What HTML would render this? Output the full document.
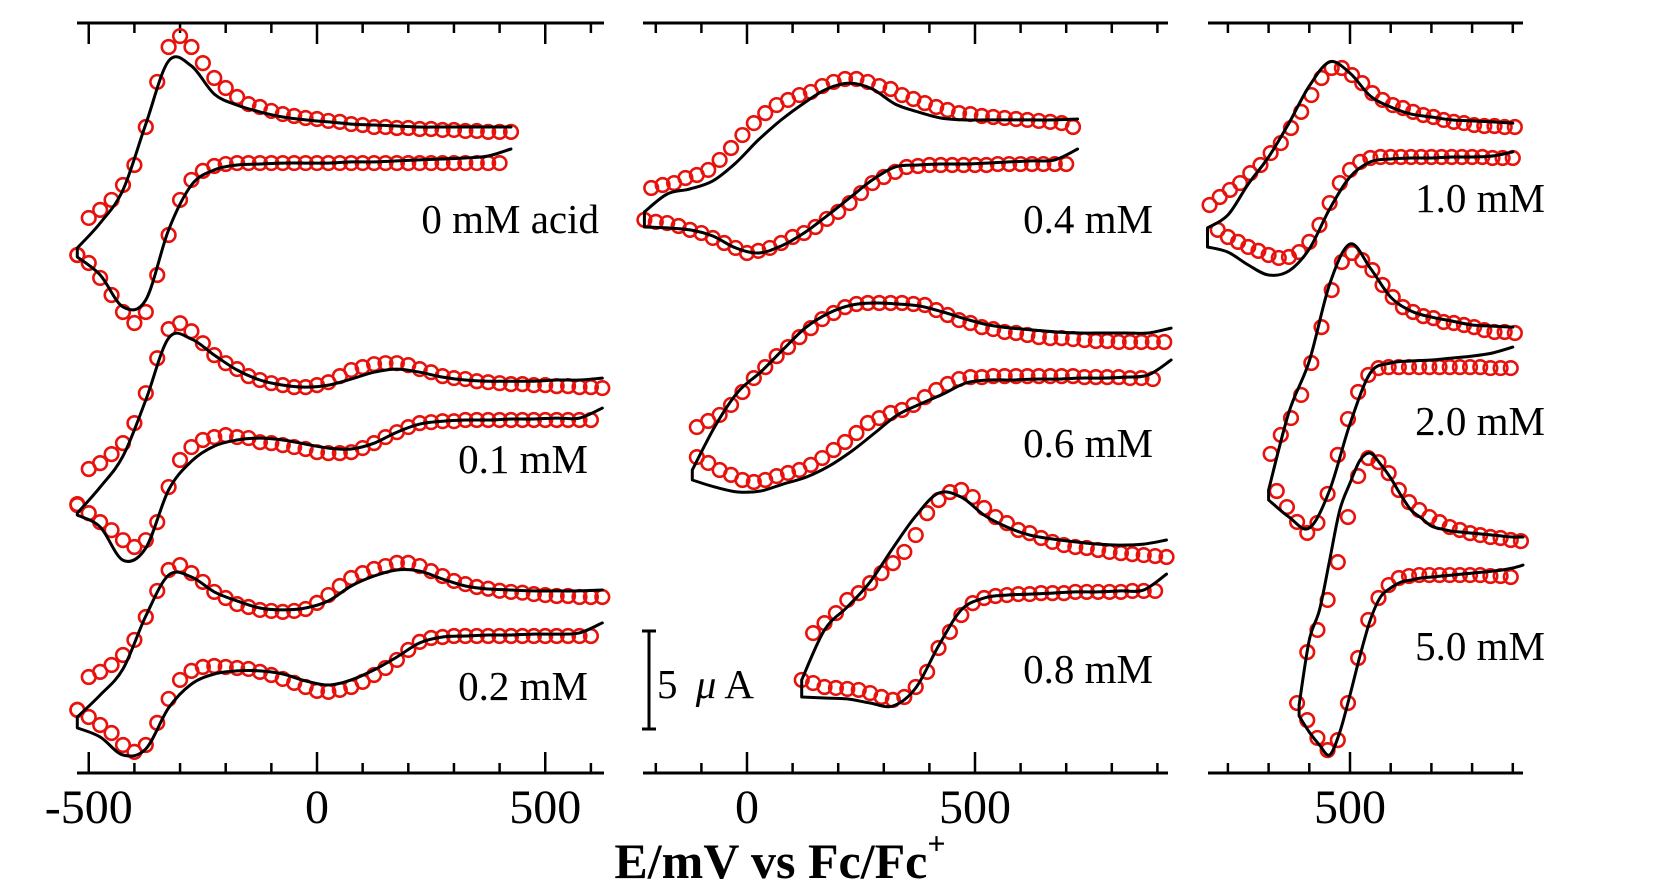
<!DOCTYPE html>
<html><head><meta charset="utf-8"><title>Cyclic voltammograms vs acid concentration</title>
<style>
html,body{margin:0;padding:0;background:#fff;}
svg{display:block;font-family:"Liberation Serif","Times New Roman",serif;}
</style></head>
<body>
<svg id="chart" width="1661" height="891" viewBox="0 0 1661 891" xmlns="http://www.w3.org/2000/svg">
<rect x="0" y="0" width="1661" height="891" fill="#fff"/>
<g id="axes"></g>
<g id="traces"></g>
<g id="labels">
  <text x="599" y="233" font-size="41" text-anchor="end">0 mM acid</text>
  <text x="588" y="473" font-size="41" text-anchor="end">0.1 mM</text>
  <text x="588" y="700" font-size="41" text-anchor="end">0.2 mM</text>
  <text x="1153" y="233" font-size="41" text-anchor="end">0.4 mM</text>
  <text x="1153" y="457" font-size="41" text-anchor="end">0.6 mM</text>
  <text x="1153" y="683" font-size="41" text-anchor="end">0.8 mM</text>
  <text x="1545" y="212" font-size="41" text-anchor="end">1.0 mM</text>
  <text x="1545" y="435" font-size="41" text-anchor="end">2.0 mM</text>
  <text x="1545" y="660" font-size="41" text-anchor="end">5.0 mM</text>
  <g>
    <line x1="649" y1="631" x2="649" y2="729" stroke="#000" stroke-width="3"/>
    <line x1="642" y1="631" x2="656" y2="631" stroke="#000" stroke-width="3"/>
    <line x1="642" y1="729" x2="656" y2="729" stroke="#000" stroke-width="3"/>
    <text x="657" y="698" font-size="41">5 <tspan font-style="italic" dx="8">μ</tspan><tspan dx="8">A</tspan></text>
  </g>
  <text x="780" y="878" font-size="50" font-weight="bold" text-anchor="middle">E/mV vs Fc/Fc<tspan dy="-24" font-size="32">+</tspan></text>
</g>
</svg>
<script>
// ---------- data (potential in mV, current in µA) ----------
const traceNames = ["0 mM acid","0.1 mM","0.2 mM","0.4 mM","0.6 mM","0.8 mM","1.0 mM","2.0 mM","5.0 mM"];
const tracePanel = [0,0,0,1,1,1,2,2,2];
const traceOffset = [26.38,13.21,2.35,27.91,15.0,3.93,26.89,13.98,3.01];
const simStart = [-525,-525,-525,-225,-120,120,150,300,375];
const simStep = [50,50,50,50,50,50,50,50,25];
const expUpStart = [-525,-525,-525,-210,-110,145,155,305,370];
const expLoStart = [-525,-525,-525,-225,-110,120,175,320,395];
const expStep = 25;

const sim0Up=[0.46,1.73,3.42,6.78,10.0,9.74,8.31,7.75,7.4,7.14,6.99,6.89,6.78,6.73,6.68,6.63,6.63,6.63,6.63,6.63];
const sim0Lo=[0,-0.92,-2.55,-2.19,1.38,3.67,4.44,4.69,4.74,4.79,4.79,4.79,4.85,4.85,4.9,4.95,5.0,5.05,5.15,5.51];
const exp0Up=[0.1,1.99,2.4,2.91,3.67,4.69,6.63,8.93,10.71,11.27,10.71,9.89,9.13,8.62,8.16,7.8,7.65,7.45,7.29,7.19,7.09,7.04,6.94,6.89,6.78,6.73,6.63,6.63,6.58,6.58,6.53,6.53,6.48,6.48,6.43,6.43,6.38,6.38,6.38];
const exp0Lo=[0.1,-0.31,-1.07,-1.94,-2.81,-3.37,-2.81,-0.92,1.12,2.91,3.93,4.39,4.64,4.74,4.79,4.79,4.79,4.79,4.79,4.79,4.79,4.79,4.79,4.79,4.79,4.79,4.79,4.79,4.79,4.79,4.79,4.79,4.79,4.79,4.79,4.79,4.79,4.79];

const sim1Up=[0.1,1.43,3.01,5.87,9.03,8.98,8.16,7.4,6.89,6.63,6.53,6.63,6.94,7.29,7.45,7.29,7.04,6.89,6.83,6.83,6.83,6.89,6.89,6.99];
const sim1Lo=[0,-0.61,-2.3,-1.68,1.28,2.75,3.52,3.83,3.93,3.83,3.62,3.42,3.37,3.67,4.23,4.64,4.79,4.85,4.85,4.9,4.9,4.95,4.95,5.46];
const exp1Up=[0.51,2.35,2.65,3.11,3.67,4.69,6.22,8.0,9.49,9.79,9.38,8.77,8.16,7.75,7.45,7.09,6.89,6.73,6.63,6.53,6.53,6.63,6.78,7.09,7.4,7.55,7.7,7.75,7.75,7.65,7.45,7.29,7.09,6.99,6.94,6.83,6.78,6.73,6.68,6.68,6.63,6.63,6.58,6.58,6.53,6.53,6.48];
const exp1Lo=[0.56,0.1,-0.36,-0.77,-1.28,-1.63,-1.28,-0.36,1.43,2.81,3.47,3.83,3.98,4.08,3.98,3.93,3.72,3.67,3.57,3.47,3.37,3.21,3.16,3.16,3.21,3.42,3.67,3.98,4.23,4.49,4.69,4.74,4.79,4.79,4.85,4.85,4.85,4.85,4.85,4.85,4.85,4.85,4.85,4.85,4.85,4.85];

const sim2Up=[0.56,1.68,3.01,5.71,7.8,7.7,6.94,6.48,6.12,6.02,6.12,6.48,7.24,7.75,8.06,8.0,7.6,7.24,7.09,7.04,6.99,6.99,6.99,7.04];
const sim2Lo=[0,-0.46,-1.38,-1.07,1.02,2.24,2.75,2.91,2.91,2.75,2.4,2.19,2.45,2.96,3.62,4.34,4.64,4.69,4.74,4.74,4.79,4.79,4.85,5.36];
const exp2Up=[0.92,2.6,2.86,3.21,3.72,4.49,5.66,6.99,8.06,8.31,7.9,7.45,6.94,6.63,6.32,6.17,6.02,5.97,5.92,5.97,6.07,6.38,6.78,7.24,7.65,7.9,8.11,8.26,8.42,8.42,8.26,8.0,7.75,7.5,7.34,7.19,7.1,7.0,6.94,6.9,6.83,6.78,6.73,6.73,6.68,6.68,6.68];
const exp2Lo=[0.92,0.56,0.15,-0.26,-0.87,-1.22,-0.87,0.26,1.48,2.45,2.91,3.11,3.16,3.11,3.06,3.01,2.86,2.7,2.5,2.3,2.09,1.89,1.84,1.94,2.09,2.35,2.7,3.06,3.47,3.98,4.39,4.59,4.64,4.69,4.69,4.69,4.69,4.69,4.69,4.69,4.69,4.69,4.69,4.69,4.69,4.69];

const sim3Up=[0.77,1.68,1.94,2.35,3.26,4.44,5.46,6.32,7.04,7.34,7.04,6.27,5.87,5.56,5.46,5.46,5.46,5.46,5.46,5.51];
const sim3Lo=[0,-0.05,-0.15,-0.46,-1.07,-1.33,-0.97,-0.31,0.56,1.48,2.4,3.06,3.16,3.21,3.21,3.26,3.32,3.37,3.42,3.98];
const exp3Up=[1.99,2.14,2.24,2.5,2.65,2.91,3.42,4.03,4.69,5.3,5.81,6.22,6.48,6.73,6.89,7.19,7.4,7.55,7.55,7.4,7.19,7.04,6.73,6.53,6.32,6.12,5.97,5.81,5.76,5.66,5.61,5.56,5.51,5.46,5.41,5.36,5.3,5.1];
const exp3Lo=[0.36,0.26,0.2,0.05,-0.15,-0.31,-0.56,-0.82,-1.07,-1.33,-1.22,-1.07,-0.82,-0.51,-0.31,0,0.41,0.77,1.22,1.73,2.24,2.55,2.81,3.06,3.11,3.16,3.16,3.16,3.16,3.16,3.16,3.21,3.21,3.21,3.21,3.21,3.21,3.21];

const sim4Up=[0.51,2.75,4.49,5.51,6.68,7.8,8.52,8.93,9.03,8.98,8.87,8.57,8.21,7.91,7.75,7.65,7.55,7.5,7.5,7.5,7.5,7.75];
const sim4Lo=[0,-0.36,-0.61,-0.56,-0.2,0.15,0.71,1.48,2.4,3.32,3.88,4.39,4.95,5.1,5.1,5.15,5.15,5.2,5.2,5.25,5.36,6.12];
const exp4Up=[2.7,3.01,3.32,3.83,4.49,5.2,5.76,6.32,6.78,7.29,7.75,8.21,8.52,8.82,8.98,9.03,9.03,9.03,9.03,8.98,8.93,8.67,8.42,8.16,8.01,7.8,7.7,7.55,7.5,7.4,7.29,7.24,7.24,7.19,7.14,7.09,7.09,7.04,7.04,7.04,7.04,7.04];
const exp4Lo=[1.17,0.87,0.51,0.26,0,-0.1,0,0.2,0.36,0.51,0.77,1.12,1.53,1.94,2.4,2.91,3.16,3.42,3.57,3.83,4.23,4.59,4.9,5.15,5.25,5.25,5.3,5.3,5.3,5.3,5.3,5.3,5.3,5.3,5.25,5.25,5.25,5.25,5.2,5.2,5.15];

const sim5Up=[0.87,3.42,4.59,5.87,7.6,9.23,10.4,10.2,9.28,8.67,8.26,8.06,7.91,7.8,7.75,7.8,8.01];
const sim5Lo=[0,-0.05,-0.1,-0.31,-0.46,0.46,2.6,4.44,5.05,5.2,5.25,5.3,5.36,5.36,5.41,5.46,6.27];
const exp5Up=[3.26,3.77,4.28,4.95,5.3,5.81,6.32,6.83,7.4,8.26,9.38,10.05,10.45,10.56,10.2,9.64,9.18,8.87,8.52,8.36,8.11,7.91,7.75,7.65,7.6,7.5,7.4,7.34,7.29,7.24,7.19,7.14];
const exp5Lo=[0.87,0.71,0.51,0.46,0.41,0.36,0.2,0,-0.15,0,0.51,1.28,2.5,3.32,4.18,4.79,5.05,5.15,5.2,5.25,5.25,5.3,5.3,5.3,5.36,5.36,5.36,5.36,5.36,5.41,5.41,5.41];

const sim6Up=[0.97,1.63,3.21,4.59,6.32,8.21,9.44,8.87,7.7,7.14,6.78,6.63,6.48,6.43,6.38,6.32];
const sim6Lo=[0,-0.26,-0.92,-1.43,-1.22,-0.1,1.94,3.57,4.34,4.49,4.54,4.54,4.59,4.59,4.64,4.85];
const exp6Up=[2.14,2.55,2.91,3.26,3.77,4.18,4.79,5.3,6.07,6.89,7.75,8.62,9.13,9.13,8.77,8.36,7.85,7.5,7.24,7.09,6.89,6.73,6.63,6.48,6.38,6.32,6.22,6.17,6.17,6.12,6.12];
const exp6Lo=[0.87,0.51,0.26,0,-0.2,-0.41,-0.56,-0.51,-0.26,0.26,1.12,2.24,3.26,3.93,4.34,4.54,4.59,4.59,4.59,4.59,4.59,4.59,4.59,4.59,4.59,4.59,4.59,4.54,4.54,4.54];

const sim7Up=[0.51,4.49,7.09,11.02,13.06,11.83,10.35,9.64,9.33,9.13,8.93,8.87,8.82];
const sim7Lo=[0,-0.87,-1.43,0.51,3.88,6.48,6.99,7.09,7.14,7.24,7.34,7.5,7.8];
const exp7Up=[2.35,3.32,4.18,5.36,6.99,8.82,10.71,12.14,12.6,12.24,11.73,10.97,10.35,9.84,9.59,9.38,9.28,9.08,9.03,8.93,8.82,8.67,8.57,8.57,8.52];
const exp7Lo=[0.46,-0.36,-1.12,-1.68,-1.17,0.31,2.3,4.13,5.51,6.38,6.73,6.78,6.78,6.78,6.78,6.78,6.78,6.78,6.78,6.78,6.78,6.73,6.73,6.73];

const sim8Up=[0.51,3.83,5.36,7.91,10.46,11.83,13.01,13.36,12.8,12.09,11.22,10.46,10.05,9.64,9.49,9.38,9.33,9.28,9.23,9.18,9.13,9.08,9.08];
const sim8Lo=[-0.05,-0.87,-1.53,-2.04,-0.87,1.02,3.06,4.85,6.02,6.48,6.78,6.89,6.99,7.04,7.09,7.14,7.19,7.24,7.29,7.34,7.4,7.5,7.65];
const exp8Up=[0.61,3.21,4.34,5.87,7.8,10.1,12.19,13.11,12.9,12.34,11.48,10.86,10.46,10.1,9.84,9.59,9.44,9.28,9.18,9.08,9.03,8.93,8.87];
const exp8Lo=[-0.26,-1.17,-1.79,-1.28,0.61,2.91,4.85,5.97,6.63,6.99,7.09,7.14,7.14,7.14,7.14,7.14,7.14,7.14,7.09,7.09,7.04];

const simUpAll=[sim0Up,sim1Up,sim2Up,sim3Up,sim4Up,sim5Up,sim6Up,sim7Up,sim8Up];
const simLoAll=[sim0Lo,sim1Lo,sim2Lo,sim3Lo,sim4Lo,sim5Lo,sim6Lo,sim7Lo,sim8Lo];
const expUpAll=[exp0Up,exp1Up,exp2Up,exp3Up,exp4Up,exp5Up,exp6Up,exp7Up,exp8Up];
const expLoAll=[exp0Lo,exp1Lo,exp2Lo,exp3Lo,exp4Lo,exp5Lo,exp6Lo,exp7Lo,exp8Lo];

// tick values per panel
const panelTickMin=[-500,-200,200];
const panelTickMax=[600,900,900];
const panelMajorTicks=[[-500,0,500],[0,500],[500]];
const panelTickLabels=[["-500","0","500"],["0","500"],["500"]];

// ---------- scales ----------
const panelX0=[317,747,1350];      // pixel of reference potential
const panelRef=[0,0,500];          // reference potential (mV)
const panelPxPerMv=[0.4565,0.456,0.407];
const panelLeft=[77,643,1208];
const panelRight=[604,1168,1523];
const yAxisBottom=773, yAxisTop=23;
const pxPerUA=19.6, yZero=774;
function xScale(p,E){return panelX0[p]+(E-panelRef[p])*panelPxPerMv[p];}
function yScale(I){return yZero-I*pxPerUA;}

const NS="http://www.w3.org/2000/svg";
const axesG=document.getElementById('axes');
const tracesG=document.getElementById('traces');
function mk(tag,attrs,parent){const el=document.createElementNS(NS,tag);for(const k in attrs)el.setAttribute(k,attrs[k]);parent.appendChild(el);return el;}

// ---------- axes ----------
for(let p=0;p<3;p++){
  const g=mk('g',{},axesG);
  
  
  for(const y of [yAxisBottom,yAxisTop]){
    const ln=mk('line',{x1:panelLeft[p],x2:panelRight[p],y1:y,y2:y,stroke:'#000','stroke-width':3},g);
    
    
  }
  for(let v=panelTickMin[p];v<=panelTickMax[p];v+=100){
    const x=xScale(p,v);
    const major=panelMajorTicks[p].indexOf(v)>=0;
    const len=major?21:10;
    const t1=mk('line',{x1:x,x2:x,y1:yAxisBottom,y2:yAxisBottom-len,stroke:'#000','stroke-width':2.5},g);
    
    
    const t2=mk('line',{x1:x,x2:x,y1:yAxisTop,y2:yAxisTop+len,stroke:'#000','stroke-width':2.5},g);
    
    
  }
  panelMajorTicks[p].forEach((v,i)=>{
    const t=mk('text',{x:xScale(p,v),y:823,'font-size':48,'text-anchor':'middle'},g);
    
    
    t.textContent=panelTickLabels[p][i];
  });
}

// ---------- traces ----------
function smoothPath(pts){
  let d='';
  for(let i=0;i<pts.length-1;i++){
    const p0=pts[Math.max(0,i-1)],p1=pts[i],p2=pts[i+1],p3=pts[Math.min(pts.length-1,i+2)];
    const c1x=p1[0]+(p2[0]-p0[0])/6,c1y=p1[1]+(p2[1]-p0[1])/6;
    const c2x=p2[0]-(p3[0]-p1[0])/6,c2y=p2[1]-(p3[1]-p1[1])/6;
    d+=' C'+c1x.toFixed(1)+','+c1y.toFixed(1)+' '+c2x.toFixed(1)+','+c2y.toFixed(1)+' '+p2[0].toFixed(1)+','+p2[1].toFixed(1);
  }
  return d;
}
for(let t=0;t<traceNames.length;t++){
  const p=tracePanel[t],off=traceOffset[t];
  const g=mk('g',{},tracesG);
  
  
  // experimental circles
  const eg=mk('g',{fill:'none',stroke:'#e8120c','stroke-width':2.6},g);
  
  
  expLoAll[t].forEach((v,i)=>{
    const c=mk('circle',{cx:xScale(p,expLoStart[t]+i*expStep),cy:yScale(off+v),r:6.8},eg);
    
    
  });
  expUpAll[t].forEach((v,i)=>{
    const c=mk('circle',{cx:xScale(p,expUpStart[t]+i*expStep),cy:yScale(off+v),r:6.8},eg);
    
    
  });
  // simulated line: lower branch right->left, then upper branch left->right
  const lo=simLoAll[t].map((v,i)=>[xScale(p,simStart[t]+i*simStep[t]),yScale(off+v)]).reverse();
  const up=simUpAll[t].map((v,i)=>[xScale(p,simStart[t]+i*simStep[t]),yScale(off+v)]);
  const d='M'+lo[0][0].toFixed(1)+','+lo[0][1].toFixed(1)+smoothPath(lo)+' L'+up[0][0].toFixed(1)+','+up[0][1].toFixed(1)+smoothPath(up);
  const path=mk('path',{d:d,fill:'none',stroke:'#000','stroke-width':3,'stroke-linejoin':'round','stroke-linecap':'round'},g);
  
  
}
</script>
</body></html>
